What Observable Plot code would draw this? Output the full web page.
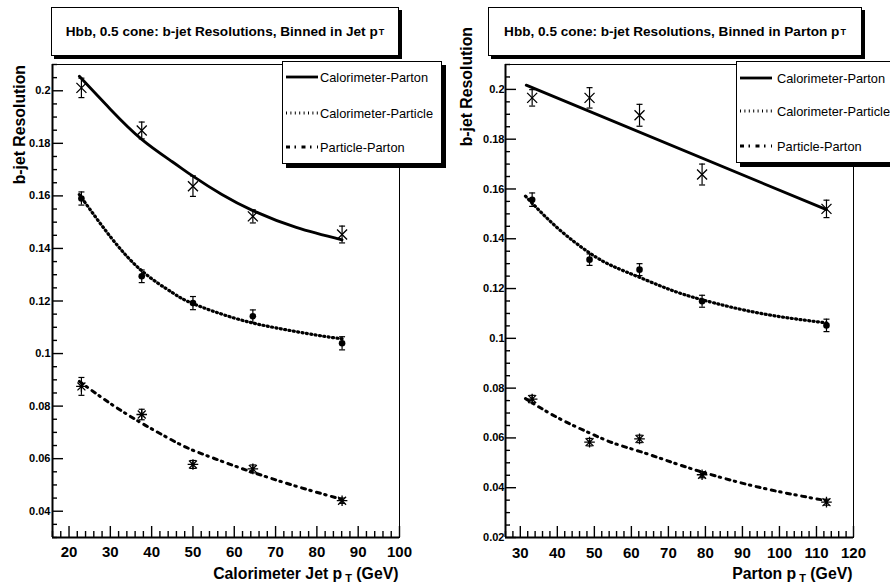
<!DOCTYPE html>
<html>
<head>
<meta charset="utf-8">
<script src="https://cdn.jsdelivr.net/npm/d3@7"></script>
<script src="https://cdn.jsdelivr.net/npm/@observablehq/plot@0.6"></script>
<style>
  html, body { margin: 0; padding: 0; background: #fff; overflow: hidden; }
  #wrap { position: relative; width: 890px; height: 583px; overflow: hidden; font-family: "Liberation Sans", Arial, sans-serif; }
  .panel { position: absolute; top: 0; }
  .tbox { position: absolute; box-sizing: border-box; border: 1px solid #000; background: #fff;
          box-shadow: 3px 3px 0 #000; display: flex; align-items: center; justify-content: center;
          font-weight: bold; font-size: 13.6px; white-space: nowrap; }
  .tbox sub { font-size: 9px; vertical-align: -3px; margin-left: 1px; }
  .legend { position: absolute; box-sizing: border-box; border: 1px solid #000; background: #fff;
            box-shadow: 4px 4px 0 #000; font-size: 12.8px; }
  .legend .row { position: absolute; left: 3px; display: flex; align-items: center; white-space: nowrap; }
  #overlay { position: absolute; left: 0; top: 0; pointer-events: none; }
</style>
</head>
<body>
<div id="wrap"></div>
<script>
// ---------------- Data ----------------
const seriesNames = ["Calorimeter-Parton", "Calorimeter-Particle", "Particle-Parton"];

// Left panel: binned in calorimeter jet pT
const leftX = [23.0, 37.6, 50.0, 64.5, 86.1];
const leftCalParton = [0.2011, 0.1849, 0.1637, 0.1522, 0.1453];
const leftCalPartonErr = [0.0037, 0.0032, 0.0039, 0.0025, 0.0032];
const leftCalParticle = [0.1590, 0.1294, 0.1192, 0.1142, 0.1039];
const leftCalParticleErr = [0.0025, 0.0024, 0.0025, 0.0024, 0.0025];
const leftPartParton = [0.0875, 0.0768, 0.0578, 0.0561, 0.0440];
const leftPartPartonErr = [0.0034, 0.0020, 0.0015, 0.0015, 0.0010];

// Left fit curves
const leftFitCalPartonX = [22.5, 30, 37.6, 45, 50, 57, 64.5, 75, 86.1];
const leftFitCalPartonY = [0.2055, 0.1930, 0.1815, 0.1730, 0.1675, 0.1605, 0.1544, 0.1480, 0.1433];
const leftFitCalParticleX = [22.5, 30, 37.6, 45, 50, 60, 70, 80, 86.1];
const leftFitCalParticleY = [0.1605, 0.1445, 0.1315, 0.1232, 0.1190, 0.1135, 0.1098, 0.1070, 0.1056];
const leftFitPartPartonX = [22.5, 30, 37.6, 45, 50, 57, 64.5, 75, 86.1];
const leftFitPartPartonY = [0.0894, 0.0810, 0.0735, 0.0670, 0.0632, 0.0590, 0.0548, 0.0495, 0.0445];

// Right panel: binned in parton pT
const rightX = [33.2, 48.7, 62.2, 79.1, 112.7];
const rightCalParton = [0.1966, 0.1966, 0.1896, 0.1658, 0.1520];
const rightCalPartonErr = [0.0033, 0.0041, 0.0044, 0.0042, 0.0035];
const rightCalParticle = [0.1557, 0.1316, 0.1276, 0.1149, 0.1052];
const rightCalParticleErr = [0.0027, 0.0023, 0.0024, 0.0024, 0.0025];
const rightPartParton = [0.0756, 0.0583, 0.0596, 0.0452, 0.0342];
const rightPartPartonErr = [0.0015, 0.0015, 0.0015, 0.0012, 0.0012];

const rightFitCalPartonX = [31.6, 112.7];
const rightFitCalPartonY = [0.2017, 0.1517];
const rightFitCalParticleX = [31.4, 40, 48.7, 55, 62.2, 70, 79.1, 95, 112.7];
const rightFitCalParticleY = [0.1571, 0.1444, 0.1343, 0.1290, 0.1245, 0.1198, 0.1155, 0.1100, 0.1062];
const rightFitPartPartonX = [31.4, 40, 48.7, 55, 62.2, 70, 79.1, 95, 112.7];
const rightFitPartPartonY = [0.0758, 0.0682, 0.0620, 0.0580, 0.0546, 0.0507, 0.0463, 0.0400, 0.0348];

// Axes / ticks
const leftXDomain = [16, 100];
const leftYDomain = [0.03, 0.21];
const leftXTicks = [20, 30, 40, 50, 60, 70, 80, 90, 100];
const leftYTicks = [0.04, 0.06, 0.08, 0.1, 0.12, 0.14, 0.16, 0.18, 0.2];
const rightXDomain = [26, 120];
const rightYDomain = [0.02, 0.21];
const rightXTicks = [30, 40, 50, 60, 70, 80, 90, 100, 110, 120];
const rightYTicks = [0.02, 0.04, 0.06, 0.08, 0.1, 0.12, 0.14, 0.16, 0.18, 0.2];

// ---------------- Helpers ----------------
const zip = (xs, ys, es) => xs.map((x, i) => ({x, y: ys[i], e: es ? es[i] : 0}));
const symX = {draw(ctx, size) { const r = Math.sqrt(size / Math.PI);
  ctx.moveTo(-r, -r); ctx.lineTo(r, r); ctx.moveTo(r, -r); ctx.lineTo(-r, r); }};
const symStar = {draw(ctx, size) { const r = Math.sqrt(size / Math.PI); const d = r * 0.75;
  ctx.moveTo(-r, 0); ctx.lineTo(r, 0); ctx.moveTo(0, -r); ctx.lineTo(0, r);
  ctx.moveTo(-d, -d); ctx.lineTo(d, d); ctx.moveTo(d, -d); ctx.lineTo(-d, d); }};
const symCap = {draw(ctx, size) { const r = Math.sqrt(size / Math.PI);
  ctx.moveTo(-r, 0); ctx.lineTo(r, 0); }};

const styles = {
  solid: {strokeWidth: 2.8},
  dotted: {strokeWidth: 3.2, strokeDasharray: "1 3.4"},
  dashdot: {strokeWidth: 3, strokeDasharray: "4 4.5 1.5 5.5"}
};

function minorTicks(lo, hi, step) {
  const out = [];
  for (let v = lo; v <= hi + 1e-9; v += step) out.push(+v.toFixed(4));
  return out;
}

function seriesMarks(pts, symbol, r, filled) {
  return [
    Plot.ruleX(pts, {x: "x", y1: d => d.y - d.e, y2: d => d.y + d.e, stroke: "black", strokeWidth: 1.2}),
    Plot.dot(pts, {x: "x", y: d => d.y - d.e, symbol: symCap, r: 3, stroke: "black", strokeWidth: 1.2}),
    Plot.dot(pts, {x: "x", y: d => d.y + d.e, symbol: symCap, r: 3, stroke: "black", strokeWidth: 1.2}),
    filled
      ? Plot.dot(pts, {x: "x", y: "y", r, fill: "black", stroke: "none"})
      : Plot.dot(pts, {x: "x", y: "y", symbol, r, stroke: "black", strokeWidth: 1.3, fill: "none"})
  ];
}

function panel(cfg) {
  const W = 445, H = 583;
  const plotW = W - cfg.ml - cfg.mr, plotH = H - cfg.mt - cfg.mb;
  const [x0, x1] = cfg.xDomain, [y0, y1] = cfg.yDomain;
  const minX = minorTicks(x0, x1, 2).filter(v => !cfg.xTicks.includes(v));
  const minY = minorTicks(y0, y1, 0.005).filter(v => !cfg.yTicks.some(t => Math.abs(t - v) < 1e-6));
  return Plot.plot({
    width: W, height: H,
    marginLeft: cfg.ml, marginRight: cfg.mr, marginTop: cfg.mt, marginBottom: cfg.mb,
    x: {domain: cfg.xDomain},
    y: {domain: cfg.yDomain},
    style: {fontFamily: "'Liberation Sans', Arial, sans-serif", background: "transparent", overflow: "visible"},
    marks: [
      Plot.frame({stroke: "black", strokeWidth: 1}),
      Plot.ruleX([x0], {stroke: "black", strokeWidth: 2}),
      Plot.ruleY([y0], {stroke: "black", strokeWidth: 2}),
      Plot.ruleX(cfg.xTicks, {insetTop: plotH - 11, stroke: "black", strokeWidth: 1.4}),
      Plot.ruleX(minX, {insetTop: plotH - 6, stroke: "black", strokeWidth: 1.4}),
      Plot.ruleY(cfg.yTicks, {insetRight: plotW - 11, stroke: "black", strokeWidth: 1.4}),
      Plot.ruleY(minY, {insetRight: plotW - 5, stroke: "black", strokeWidth: 1.4}),
      Plot.axisX({ticks: cfg.xTicks, tickSize: 0, tickPadding: cfg.xPad, fontSize: 15, fontWeight: "bold",
                  label: null, tickFormat: d => String(d), fill: "black"}),
      Plot.axisY({ticks: cfg.yTicks, tickSize: 0, tickPadding: cfg.yPad, fontSize: 11, fontWeight: "bold",
                  label: null, tickFormat: d => String(+d.toFixed(2)), fill: "black"}),
      Plot.line(zip(cfg.fits[0][0], cfg.fits[0][1]), {x: "x", y: "y", stroke: "black", curve: "natural", ...styles.solid}),
      Plot.line(zip(cfg.fits[1][0], cfg.fits[1][1]), {x: "x", y: "y", stroke: "black", curve: "natural", ...styles.dotted}),
      Plot.line(zip(cfg.fits[2][0], cfg.fits[2][1]), {x: "x", y: "y", stroke: "black", curve: "natural", ...styles.dashdot}),
      ...seriesMarks(zip(cfg.xs, cfg.s[0][0], cfg.s[0][1]), symX, 5, false),
      ...seriesMarks(zip(cfg.xs, cfg.s[1][0], cfg.s[1][1]), null, 3.3, true),
      ...seriesMarks(zip(cfg.xs, cfg.s[2][0], cfg.s[2][1]), symStar, 5.3, false)
    ]
  });
}

const wrap = document.getElementById("wrap");

const left = panel({
  ml: 52, mr: 46, mt: 64, mb: 46, xPad: 9, yPad: 2,
  xDomain: leftXDomain, yDomain: leftYDomain, xTicks: leftXTicks, yTicks: leftYTicks,
  xs: leftX,
  s: [[leftCalParton, leftCalPartonErr], [leftCalParticle, leftCalParticleErr], [leftPartParton, leftPartPartonErr]],
  fits: [[leftFitCalPartonX, leftFitCalPartonY], [leftFitCalParticleX, leftFitCalParticleY], [leftFitPartPartonX, leftFitPartPartonY]]
});
const right = panel({
  ml: 60, mr: 37, mt: 64, mb: 46, xPad: 10, yPad: 1,
  xDomain: rightXDomain, yDomain: rightYDomain, xTicks: rightXTicks, yTicks: rightYTicks,
  xs: rightX,
  s: [[rightCalParton, rightCalPartonErr], [rightCalParticle, rightCalParticleErr], [rightPartParton, rightPartPartonErr]],
  fits: [[rightFitCalPartonX, rightFitCalPartonY], [rightFitCalParticleX, rightFitCalParticleY], [rightFitPartPartonX, rightFitPartPartonY]]
});
const pl = document.createElement("div"); pl.className = "panel"; pl.style.left = "0px"; pl.appendChild(left); wrap.appendChild(pl);
const pr = document.createElement("div"); pr.className = "panel"; pr.style.left = "445px"; pr.appendChild(right); wrap.appendChild(pr);

// Axis titles overlay
const ov = d3.select(wrap).append("svg").attr("id", "overlay").attr("width", 890).attr("height", 583)
  .style("font-family", "'Liberation Sans', Arial, sans-serif").style("font-weight", "bold");

function xTitle(x, y, pre) {
  const t = ov.append("text").attr("x", x).attr("y", y).attr("text-anchor", "end").attr("font-size", 15.8);
  t.append("tspan").text(pre + "p");
  t.append("tspan").attr("font-size", 11).attr("dy", 3).attr("dx", 3).text("T");
  t.append("tspan").attr("dy", -3).text(" (GeV)");
}
xTitle(398.5, 579, "Calorimeter Jet ");
xTitle(852.5, 579, "Parton ");

function yTitle(x, y) {
  ov.append("text").attr("transform", `translate(${x},${y}) rotate(-90)`).attr("text-anchor", "end")
    .attr("font-size", 15.8).text("b-jet Resolution");
}
yTitle(25, 65);
yTitle(472, 27);

// Title boxes
function titleBox(l, t, w, h, text) {
  const d = document.createElement("div"); d.className = "tbox";
  Object.assign(d.style, {left: l + "px", top: t + "px", width: w + "px", height: h + "px"});
  d.innerHTML = text + " p<sub>T</sub>";
  wrap.appendChild(d);
}
titleBox(51, 7, 348, 49, "Hbb, 0.5 cone: b-jet Resolutions, Binned in Jet");
titleBox(488, 7, 374, 49, "Hbb, 0.5 cone: b-jet Resolutions, Binned in Parton");

// Legends
function legend(l, t, w, h, rows, textGap) {
  const d = document.createElement("div"); d.className = "legend";
  Object.assign(d.style, {left: l + "px", top: t + "px", width: w + "px", height: h + "px"});
  const keys = ["solid", "dotted", "dashdot"];
  seriesNames.forEach((name, i) => {
    const r = document.createElement("div"); r.className = "row";
    r.style.top = (rows[i] - 9) + "px"; r.style.height = "18px";
    const st = styles[keys[i]];
    r.innerHTML = `<svg width="32" height="18" style="margin-right:${textGap}px"><line x1="0" x2="32" y1="9" y2="9" stroke="black" stroke-width="${st.strokeWidth}" ${st.strokeDasharray ? `stroke-dasharray="${st.strokeDasharray}"` : ""}/></svg><span>${name}</span>`;
    d.appendChild(r);
  });
  wrap.appendChild(d);
}
legend(282, 61, 160, 103, [15, 51, 85], 2);
legend(736, 61, 170, 102, [16, 49, 84], 5);
</script>
</body>
</html>
